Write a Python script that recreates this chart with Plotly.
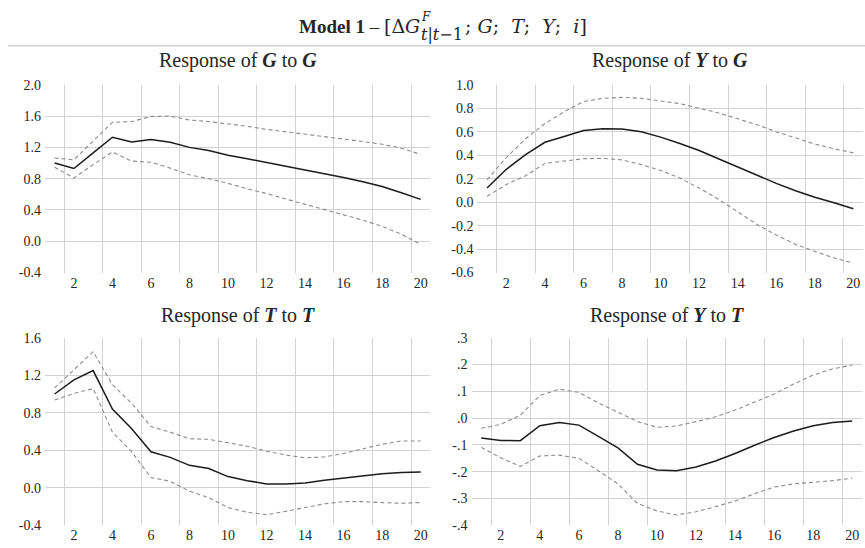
import plotly.graph_objects as go

# ---------------- data ----------------
periods = list(range(1, 21))

# Response of G to G
gg_mid = [1.00, 0.93, 1.13, 1.33, 1.27, 1.30, 1.265, 1.20, 1.16, 1.10, 1.055, 1.01, 0.96, 0.91, 0.865, 0.815, 0.76, 0.70, 0.62, 0.535]
gg_up = [1.065, 1.04, 1.28, 1.52, 1.53, 1.595, 1.60, 1.55, 1.53, 1.50, 1.47, 1.43, 1.40, 1.37, 1.34, 1.31, 1.275, 1.24, 1.19, 1.11]
gg_lo = [0.945, 0.81, 0.98, 1.14, 1.025, 1.01, 0.935, 0.85, 0.80, 0.74, 0.67, 0.61, 0.54, 0.475, 0.41, 0.34, 0.27, 0.19, 0.09, -0.04]

# Response of Y to G
yg_mid = [0.12, 0.28, 0.405, 0.51, 0.56, 0.61, 0.626, 0.623, 0.60, 0.554, 0.50, 0.44, 0.37, 0.30, 0.225, 0.16, 0.097, 0.042, -0.005, -0.056]
yg_up = [0.19, 0.38, 0.54, 0.67, 0.77, 0.857, 0.885, 0.893, 0.885, 0.865, 0.84, 0.80, 0.76, 0.71, 0.66, 0.60, 0.545, 0.495, 0.455, 0.42]
yg_lo = [0.05, 0.15, 0.225, 0.33, 0.35, 0.37, 0.373, 0.36, 0.32, 0.27, 0.206, 0.12, 0.025, -0.086, -0.19, -0.28, -0.36, -0.42, -0.476, -0.52]

# Response of T to T
tt_mid = [1.00, 1.15, 1.25, 0.84, 0.63, 0.384, 0.325, 0.24, 0.206, 0.12, 0.077, 0.042, 0.042, 0.052, 0.08, 0.105, 0.13, 0.15, 0.164, 0.168]
tt_up = [1.065, 1.26, 1.45, 1.10, 0.90, 0.653, 0.594, 0.524, 0.517, 0.48, 0.444, 0.39, 0.35, 0.32, 0.33, 0.367, 0.42, 0.465, 0.50, 0.50]
tt_lo = [0.936, 1.006, 1.058, 0.594, 0.384, 0.11, 0.07, -0.035, -0.105, -0.21, -0.26, -0.286, -0.25, -0.21, -0.17, -0.147, -0.147, -0.157, -0.164, -0.157]

# Response of Y to T
yt_mid = [-0.074, -0.083, -0.084, -0.028, -0.016, -0.026, -0.068, -0.111, -0.172, -0.193, -0.196, -0.182, -0.16, -0.132, -0.101, -0.072, -0.048, -0.028, -0.016, -0.011]
yt_up = [-0.038, -0.023, 0.011, 0.084, 0.108, 0.096, 0.057, 0.021, -0.013, -0.034, -0.029, -0.013, 0.005, 0.030, 0.060, 0.090, 0.127, 0.161, 0.184, 0.198]
yt_lo = [-0.109, -0.148, -0.18, -0.141, -0.138, -0.15, -0.196, -0.245, -0.318, -0.346, -0.361, -0.349, -0.33, -0.309, -0.282, -0.257, -0.245, -0.239, -0.233, -0.224]

# tick labels
x_tickvals = [2, 4, 6, 8, 10, 12, 14, 16, 18, 20]
x_ticktext = ["2", "4", "6", "8", "10", "12", "14", "16", "18", "20"]
x_gridvals = [1.5, 3.5, 5.5, 7.5, 9.5, 11.5, 13.5, 15.5, 17.5, 19.5]

gg_yvals = [-0.4, 0.0, 0.4, 0.8, 1.2, 1.6, 2.0]
gg_ytext = ["-0.4", "0.0", "0.4", "0.8", "1.2", "1.6", "2.0"]
yg_yvals = [-0.6, -0.4, -0.2, 0.0, 0.2, 0.4, 0.6, 0.8, 1.0]
yg_ytext = ["-0.6", "-0.4", "-0.2", "0.0", "0.2", "0.4", "0.6", "0.8", "1.0"]
tt_yvals = [-0.4, 0.0, 0.4, 0.8, 1.2, 1.6]
tt_ytext = ["-0.4", "0.0", "0.4", "0.8", "1.2", "1.6"]
yt_yvals = [-0.4, -0.3, -0.2, -0.1, 0.0, 0.1, 0.2, 0.3]
yt_ytext = ["-.4", "-.3", "-.2", "-.1", ".0", ".1", ".2", ".3"]

panel_titles = [
    "Response of <b><i>G</i></b> to <b><i>G</i></b>",
    "Response of <b><i>Y</i></b> to <b><i>G</i></b>",
    "Response of <b><i>T</i></b> to <b><i>T</i></b>",
    "Response of <b><i>Y</i></b> to <b><i>T</i></b>",
]

# ---------------- figure ----------------
W, H = 865, 548
FONT = "Liberation Serif"
MATH = "DejaVu Serif"
TXT = "#262626"
GRID = "#d2d2d2"

panels = [
    dict(mid=gg_mid, up=gg_up, lo=gg_lo, yvals=gg_yvals, ytext=gg_ytext, yr=[-0.4, 2.0],
         xd=[45.0 / W, 430.3 / W], yd=[1 - 273 / H, 1 - 80 / H]),
    dict(mid=yg_mid, up=yg_up, lo=yg_lo, yvals=yg_yvals, ytext=yg_ytext, yr=[-0.6, 1.0],
         xd=[477.4 / W, 863 / W], yd=[1 - 273 / H, 1 - 80 / H]),
    dict(mid=tt_mid, up=tt_up, lo=tt_lo, yvals=tt_yvals, ytext=tt_ytext, yr=[-0.4, 1.6],
         xd=[45.0 / W, 430.3 / W], yd=[1 - 533 / H, 1 - 340 / H]),
    dict(mid=yt_mid, up=yt_up, lo=yt_lo, yvals=yt_yvals, ytext=yt_ytext, yr=[-0.4, 0.3],
         xd=[471.5 / W, 862 / W], yd=[1 - 533 / H, 1 - 340 / H]),
]

fig = go.Figure()
layout = dict(
    width=W, height=H,
    margin=dict(l=0, r=0, t=0, b=0),
    paper_bgcolor="white", plot_bgcolor="white",
    showlegend=False,
    font=dict(family=FONT, size=14, color=TXT),
)

annotations = []
for i, p in enumerate(panels):
    n = i + 1
    xa = "x" if n == 1 else f"x{n}"
    ya = "y" if n == 1 else f"y{n}"
    for series, style in ((p["up"], "dash"), (p["lo"], "dash"), (p["mid"], "solid")):
        if style == "dash":
            line = dict(color="#8c8c8c", width=1.1, dash="4px,3px")
        else:
            line = dict(color="#1c1c1c", width=1.5)
        fig.add_trace(go.Scatter(x=periods, y=series, mode="lines", line=line,
                                 xaxis=xa, yaxis=ya, hoverinfo="skip"))
    xkey = "xaxis" if n == 1 else f"xaxis{n}"
    ykey = "yaxis" if n == 1 else f"yaxis{n}"
    layout[xkey] = dict(
        domain=p["xd"], range=[0.5, 20.5], anchor=ya,
        tickmode="array", tickvals=x_tickvals, ticktext=x_ticktext,
        showgrid=False, zeroline=False, showline=False, ticks="",
        tickfont=dict(size=14, family=FONT, color=TXT),
        minor=dict(tickmode="array", tickvals=x_gridvals, showgrid=True,
                   gridcolor=GRID, gridwidth=1.2, ticks=""),
        fixedrange=True,
    )
    layout[ykey] = dict(
        domain=p["yd"], range=p["yr"], anchor=xa,
        tickmode="array", tickvals=p["yvals"], ticktext=p["ytext"],
        showgrid=True, gridcolor=GRID, gridwidth=1.2,
        zeroline=False, showline=False, ticks="",
        ticklabelstandoff=3,
        tickfont=dict(size=14, family=FONT, color=TXT),
        fixedrange=True,
    )
    # panel title
    cx = (p["xd"][0] + p["xd"][1]) / 2
    ty = 1 - (55 / H) if n <= 2 else 1 - (317 / H)
    annotations.append(dict(
        text=panel_titles[i], x=cx, y=ty, xref="paper", yref="paper",
        xanchor="center", yanchor="middle", showarrow=False,
        font=dict(size=20, family=FONT, color=TXT),
    ))

# main title: built from pieces so that the superscript F sits above the subscript
title_y = 20
annotations.append(dict(
    text="<b>Model 1</b> – <span style='font-family:DejaVu Serif'>[Δ<i>G</i></span>",
    x=421 / W, y=1 - title_y / H, xref="paper", yref="paper",
    xanchor="right", yanchor="middle", showarrow=False, borderpad=0,
    font=dict(size=19, family=FONT, color=TXT),
))
annotations.append(dict(
    text="<i>F</i>",
    x=420 / W, y=1 - 10 / H, xref="paper", yref="paper",
    xanchor="left", yanchor="middle", showarrow=False, borderpad=0,
    font=dict(size=12, family=MATH, color=TXT),
))
annotations.append(dict(
    text="<i>t</i>|<i>t</i>−1",
    x=420 / W, y=1 - 28.5 / H, xref="paper", yref="paper",
    xanchor="left", yanchor="middle", showarrow=False, borderpad=0,
    font=dict(size=16, family=MATH, color=TXT),
))
annotations.append(dict(
    text="; <i>G</i>;  <i>T</i>;  <i>Y</i>;  <i>i</i>]",
    x=464 / W, y=1 - title_y / H, xref="paper", yref="paper",
    xanchor="left", yanchor="middle", showarrow=False, borderpad=0,
    font=dict(size=19, family=MATH, color=TXT),
))
layout["annotations"] = annotations
layout["shapes"] = [dict(type="line", xref="paper", yref="paper",
                         x0=8 / W, x1=1, y0=1 - 40 / H, y1=1 - 40 / H,
                         line=dict(color="#c8c8c8", width=1.2))]

fig.update_layout(**layout)
fig.write_html("out.html")
